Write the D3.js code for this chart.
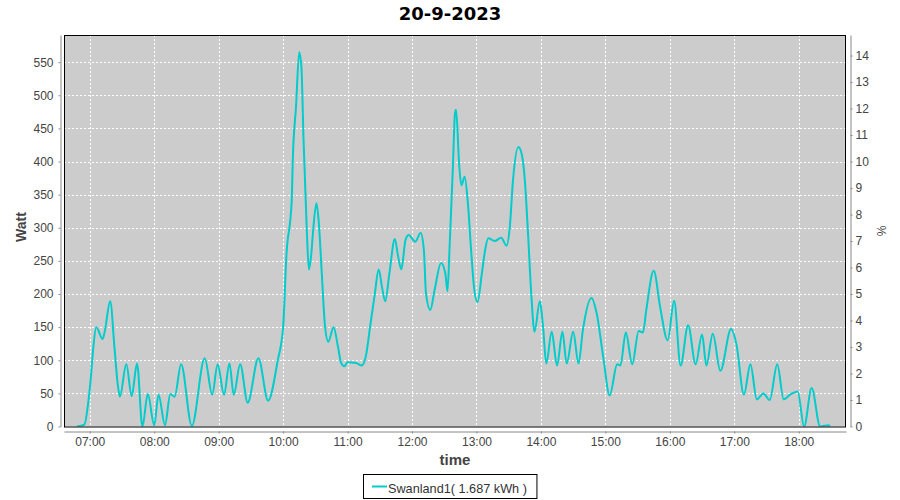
<!DOCTYPE html>
<html><head><meta charset="utf-8">
<script src="https://cdn.jsdelivr.net/npm/d3@7/dist/d3.min.js"></script>
<style>body{margin:0;background:#fff}svg{display:block}</style>
</head><body><svg id="chart" width="900" height="500"></svg>
<script>
const chartTitle = "20-9-2023";
const seriesName = "Swanland1( 1.687 kWh )";
const xLabel = "time";
const yLabel = "Watt";
const y2Label = "%";
const times = ["06:48","06:55","06:58","07:01","07:03","07:06","07:12","07:14","07:19","07:23","07:26","07:28","07:34","07:39","07:44","07:49","07:54","08:00","08:04","08:10","08:15","08:19","08:25","08:35","08:47","08:54","08:59","09:05","09:10","09:14","09:20","09:27","09:37","09:46","09:55","10:00","10:03","10:08","10:09","10:12","10:15","10:17","10:19","10:22","10:24","10:26","10:28","10:31","10:33","10:36","10:39","10:42","10:47","10:51","10:54","10:57","11:00","11:08","11:13","11:17","11:21","11:25","11:29","11:32","11:35","11:39","11:44","11:47","11:50","11:54","11:57","12:03","12:08","12:11","12:13","12:17","12:21","12:27","12:31","12:33","12:35","12:38","12:40","12:41","12:44","12:46","12:49","12:52","12:55","12:58","13:01","13:05","13:08","13:11","13:17","13:23","13:28","13:31","13:34","13:39","13:42","13:45","13:48","13:51","13:54","13:59","14:02","14:05","14:10","14:15","14:20","14:24","14:30","14:35","14:39","14:47","14:52","14:58","15:04","15:11","15:14","15:19","15:25","15:31","15:35","15:38","15:45","15:51","15:58","16:04","16:10","16:17","16:24","16:30","16:34","16:40","16:47","16:57","17:02","17:09","17:15","17:21","17:27","17:33","17:40","17:46","17:52","17:59","18:05","18:12","18:20","18:28","18:29"];
const watts = [0,3,29,74,114,150,132,144,189,119,64,45,94,46,95,0,49,2,48,2,49,45,94,1,103,48,94,48,95,48,94,36,103,39,100,150,257,342,403,483,565,543,433,297,237,257,297,337,312,231,151,128,150,121,96,91,97,96,92,106,151,196,237,211,189,232,283,257,237,282,289,279,292,267,201,176,206,247,231,204,272,390,473,478,392,364,377,337,266,206,188,231,266,284,280,285,273,301,372,422,412,372,291,200,143,189,150,95,143,92,143,95,143,95,145,194,170,105,47,94,92,142,94,144,142,175,235,180,130,190,92,153,94,139,92,140,84,147,124,48,94,41,50,40,94,41,48,53,0,58,0,2,0];
const wattTicks = [0,50,100,150,200,250,300,350,400,450,500,550];
const percentTicks = [0,1,2,3,4,5,6,7,8,9,10,11,12,13,14];
const hourTicks = ["07:00","08:00","09:00","10:00","11:00","12:00","13:00","14:00","15:00","16:00","17:00","18:00"];
const timeRange = ["06:36","18:44"];
const wattMax = 591;
const wattsPerPercent = 40;

const parse = d3.timeParse("%H:%M");
const fmt = d3.timeFormat("%H:%M");
const data = times.map((t,i)=>({t:parse(t), w:watts[i]}));

const L=64, R=846, T=35, B=426.5;
const svg = d3.select("#chart");
const font = "'Liberation Sans', Arial, sans-serif";

const x = d3.scaleTime().domain(timeRange.map(parse)).range([L,R]);
const y = d3.scaleLinear().domain([0,wattMax]).range([B,T]);
const y2 = d3.scaleLinear().domain([0,wattMax/wattsPerPercent]).range([B,T]);

svg.append("rect").attr("x",L).attr("y",T).attr("width",R-L).attr("height",B-T).attr("fill","#cccccc");

const grid = svg.append("g").attr("stroke","#fff").attr("stroke-width",1).attr("stroke-dasharray","2,2");
grid.selectAll(".h").data(wattTicks).join("line")
  .attr("x1",L).attr("x2",R).attr("y1",d=>Math.round(y(d))+0.5).attr("y2",d=>Math.round(y(d))+0.5);
grid.selectAll(".v").data(hourTicks.map(parse)).join("line")
  .attr("y1",T).attr("y2",B).attr("x1",d=>Math.round(x(d))+0.5).attr("x2",d=>Math.round(x(d))+0.5);

svg.append("clipPath").attr("id","clip").append("rect").attr("x",L).attr("y",T).attr("width",R-L).attr("height",B-T);
const line = d3.line().x(d=>x(d.t)).y(d=>y(d.w)).curve(d3.curveMonotoneX);
svg.append("path").datum(data).attr("d",line).attr("fill","none")
  .attr("stroke","#00cccc").attr("stroke-width",2).attr("clip-path","url(#clip)");

svg.append("rect").attr("x",L+0.5).attr("y",T+0.5).attr("width",R-L-1).attr("height",B-T)
  .attr("fill","none").attr("stroke","#000").attr("stroke-width",1);

function styleAxis(g){
  g.selectAll("path.domain").attr("stroke","#888");
  g.selectAll(".tick line").attr("stroke","#888");
  g.selectAll("text").attr("fill","#444").style("font-family",font).style("font-size","12px");
}
svg.append("g").attr("transform","translate(60.5,0)")
  .call(d3.axisLeft(y).tickValues(wattTicks).tickSize(2).tickSizeOuter(0).tickPadding(5))
  .call(styleAxis);
svg.append("g").attr("transform","translate(850.5,0)")
  .call(d3.axisRight(y2).tickValues(percentTicks).tickSize(2).tickSizeOuter(0).tickPadding(3))
  .call(styleAxis);
svg.append("g").attr("transform","translate(0,431.5)")
  .call(d3.axisBottom(x).tickValues(hourTicks.map(parse)).tickFormat(fmt).tickSize(2).tickSizeOuter(0).tickPadding(4))
  .call(styleAxis);

svg.append("text").attr("x",450).attr("y",19.5).attr("text-anchor","middle")
  .style("font-family","'DejaVu Sans', sans-serif").style("font-weight","bold").style("font-size","18px")
  .attr("fill","#000").text(chartTitle);
svg.append("text").attr("x",(L+R)/2).attr("y",465).attr("text-anchor","middle")
  .style("font-family",font).style("font-weight","bold").style("font-size","15px").attr("fill","#444").text(xLabel);
svg.append("text").attr("transform",`translate(25.5,227) rotate(-90)`).attr("text-anchor","middle")
  .style("font-family",font).style("font-weight","bold").style("font-size","14px").attr("fill","#444").text(yLabel);
svg.append("text").attr("transform",`translate(877,${(T+B)/2}) rotate(90)`).attr("text-anchor","middle")
  .style("font-family",font).style("font-size","12px").attr("fill","#444").text(y2Label);

const lg = svg.append("g");
const lt = lg.append("text").attr("x",388).attr("y",492.5)
  .style("font-family",font).style("font-size","12.7px").attr("fill","#333").text(seriesName);
const tw = lt.node().getComputedTextLength();
lg.insert("rect","text").attr("x",363.5).attr("y",474.5).attr("width",388 + tw + 10 - 363.5).attr("height",24)
  .attr("fill","#fff").attr("stroke","#000");
lg.append("line").attr("x1",372).attr("x2",387).attr("y1",486.5).attr("y2",486.5)
  .attr("stroke","#00cccc").attr("stroke-width",2);
</script></body></html>
